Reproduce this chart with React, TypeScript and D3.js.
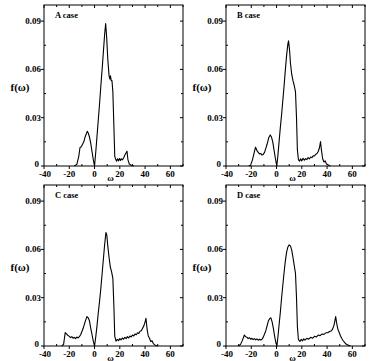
import * as d3 from "d3"

// spectral function f(ω) for the four cases
const caseA: [number, number][] = [
  [-16, 0], [-14, 0.001], [-12.5, 0.006], [-11.5, 0.0115], [-10.5, 0.012], [-9.5, 0.0135], [-8.5, 0.015],
  [-7.5, 0.018], [-6.5, 0.02], [-5.8, 0.0215], [-5, 0.0205], [-4, 0.018], [-3, 0.014], [-2, 0.009],
  [-1, 0.004], [0, 0], [1, 0.009], [2, 0.019], [3, 0.029], [4, 0.039], [5, 0.05], [6, 0.06], [7, 0.071],
  [8, 0.082], [8.8, 0.0885], [9.6, 0.08], [10.5, 0.066], [11.5, 0.056], [12.1, 0.054], [12.6, 0.056],
  [13.2, 0.053], [13.8, 0.053], [14.5, 0.046], [15.3, 0.025], [16, 0.006], [16.8, 0.004], [17.5, 0.003],
  [18.2, 0.0045], [19, 0.0032], [19.8, 0.0046], [20.5, 0.0034], [21.3, 0.0045], [22, 0.0038], [23, 0.005],
  [24, 0.0068], [25, 0.0082], [25.7, 0.0092], [26.4, 0.004], [27.5, 0.0012], [29, 0.0005], [31, 0],
]

const caseB: [number, number][] = [
  [-22, 0], [-20.5, 0.0005], [-19, 0.004], [-17.5, 0.009], [-16.6, 0.0117], [-15.5, 0.0095], [-14.5, 0.0085],
  [-13.5, 0.0075], [-12.5, 0.0078], [-11.5, 0.0068], [-10.5, 0.0072], [-9.5, 0.0085], [-8.5, 0.011],
  [-7.5, 0.0135], [-6.2, 0.0175], [-5, 0.0193], [-4, 0.018], [-3, 0.015], [-2, 0.01], [-1, 0.005],
  [0.2, 0], [1, 0.006], [2, 0.015], [3, 0.024], [4, 0.032], [5, 0.041], [6, 0.05], [7, 0.06], [8, 0.069],
  [9, 0.076], [9.5, 0.0777], [10.3, 0.072], [11, 0.064], [12, 0.057], [13, 0.053], [14, 0.05], [15, 0.046],
  [15.8, 0.03], [16.5, 0.01], [17.3, 0.004], [18.2, 0.003], [19, 0.0045], [20, 0.0032], [21, 0.0048],
  [22, 0.0036], [23, 0.0046], [24, 0.004], [25, 0.0052], [26, 0.0044], [27, 0.0056], [28, 0.0052],
  [29, 0.0064], [30, 0.0062], [31, 0.0072], [32, 0.0078], [33, 0.009], [34, 0.0115], [34.8, 0.0152],
  [35.5, 0.01], [36.5, 0.0045], [37.5, 0.0025], [38.5, 0.0032], [39.5, 0.0012], [41, 0.0006], [42.5, 0],
]

const caseC: [number, number][] = [
  [-26, 0], [-24.5, 0.001], [-23.8, 0.005], [-23.2, 0.0083], [-22.2, 0.0075], [-21, 0.0065], [-20, 0.006],
  [-19, 0.0052], [-18, 0.0058], [-17, 0.0048], [-16, 0.0054], [-15, 0.0046], [-14, 0.0056], [-13, 0.005],
  [-12, 0.0058], [-11, 0.007], [-10, 0.009], [-9, 0.011], [-7.5, 0.015], [-6, 0.0183], [-5, 0.0175],
  [-4, 0.0155], [-3, 0.011], [-2, 0.007], [-1, 0.003], [0, 0], [1, 0.006], [2, 0.013], [3, 0.021],
  [4, 0.028], [5, 0.036], [6, 0.045], [7, 0.054], [8, 0.063], [9, 0.0705], [9.7, 0.069], [10.5, 0.062],
  [11.5, 0.055], [12.5, 0.049], [13.5, 0.046], [14.5, 0.042], [15.3, 0.025], [16, 0.006], [17, 0.003],
  [18, 0.0042], [19, 0.0033], [20, 0.0046], [21, 0.0038], [22, 0.005], [23, 0.0042], [24, 0.0054],
  [25, 0.0046], [26, 0.0058], [27, 0.005], [28, 0.0062], [29, 0.0056], [30, 0.0068], [31, 0.0062],
  [32, 0.0075], [33, 0.007], [34, 0.0082], [35, 0.0078], [36, 0.0092], [37, 0.0095], [38, 0.011],
  [39, 0.0125], [40, 0.015], [40.7, 0.0172], [41.5, 0.011], [42.5, 0.0062], [43.5, 0.0048], [44.5, 0.0028],
  [45.5, 0.0032], [46.5, 0.0015], [48, 0.0005], [50, 0],
]

const caseD: [number, number][] = [
  [-30, 0], [-28.5, 0.001], [-27, 0.0035], [-25.5, 0.0068], [-24.5, 0.0058], [-23.5, 0.0055],
  [-22.5, 0.0046], [-21.5, 0.0052], [-20.5, 0.0042], [-19.5, 0.0048], [-18.5, 0.004], [-17.5, 0.0046],
  [-16.5, 0.0038], [-15.5, 0.0044], [-14.5, 0.0036], [-13.5, 0.0042], [-12.5, 0.0037], [-11.5, 0.0042],
  [-10.5, 0.0055], [-9.5, 0.0075], [-8.5, 0.0095], [-7.5, 0.0125], [-6.5, 0.0155], [-5.5, 0.017],
  [-4.5, 0.0175], [-3.5, 0.015], [-2.5, 0.011], [-1.5, 0.006], [-0.5, 0.002], [0.3, 0], [1, 0.005],
  [2, 0.013], [3, 0.021], [4, 0.03], [5, 0.038], [6, 0.046], [7, 0.053], [8, 0.0585], [9, 0.0615],
  [10, 0.0628], [11, 0.0622], [12, 0.0595], [13, 0.055], [14, 0.05], [15, 0.045], [15.8, 0.03],
  [16.5, 0.012], [17.3, 0.004], [18.5, 0.0028], [19.5, 0.0042], [20.5, 0.0032], [21.5, 0.0044],
  [22.5, 0.0036], [24, 0.0048], [25.5, 0.0042], [27, 0.0054], [28.5, 0.0048], [30, 0.006], [31.5, 0.0056],
  [33, 0.0068], [34.5, 0.0064], [36, 0.0075], [37.5, 0.0072], [39, 0.0082], [40.5, 0.0082], [42, 0.009],
  [43.5, 0.0095], [44.5, 0.0108], [45.5, 0.013], [46.8, 0.0183], [47.5, 0.0145], [48.5, 0.0105],
  [49.5, 0.0085], [50.5, 0.0065], [51.5, 0.0048], [52.5, 0.0036], [53.5, 0.0025], [55, 0.0012],
  [57, 0.0004], [58.5, 0],
]

const caseLabels = ["A case", "B case", "C case", "D case"]
const caseData = [caseA, caseB, caseC, caseD]

const xMajor = [-40, -20, 0, 20, 40, 60]
const xMinor = [-30, -10, 10, 30, 50, 70]
const yMajor = [0, 0.03, 0.06, 0.09]
const yMinor = [0.015, 0.045, 0.075]
const yTickText = ["0", "0.03", "0.06", "0.09"]

const W = 371
const H = 361
const boxW = 139
const boxH = 161
const origins = [
  { x: 44, y: 5 },
  { x: 226, y: 5 },
  { x: 44, y: 185 },
  { x: 226, y: 185 },
]

const font = "'Liberation Serif', 'Times New Roman', serif"

function Panel({ idx }: { idx: number }) {
  const { x: left, y: top } = origins[idx]
  const data = caseData[idx]

  const x = d3.scaleLinear().domain([-40, 70]).range([left, left + boxW])
  const y = d3.scaleLinear().domain([0, 0.1]).range([top + boxH, top])

  const line = d3.line<[number, number]>()
    .x(d => x(d[0]))
    .y(d => y(d[1]))

  const bottom = top + boxH
  const right = left + boxW

  return (
    <g>
      <path d={line(data) ?? ""} fill="none" stroke="#000" strokeWidth={1.1} strokeLinejoin="round" />
      <rect x={left} y={top} width={boxW} height={boxH} fill="none" stroke="#000" strokeWidth={1} />

      {/* x ticks */}
      {xMajor.map(v => (
        <g key={"xM" + v}>
          <line x1={x(v)} x2={x(v)} y1={bottom} y2={bottom + 3} stroke="#000" />
          <line x1={x(v)} x2={x(v)} y1={top} y2={top + 3} stroke="#000" />
          <text x={x(v) + (v === -40 ? 1 : 0)} y={bottom + 10.5} textAnchor="middle" fontSize={9} fontWeight="bold"
            fontFamily={font}>{v}</text>
        </g>
      ))}
      {xMinor.map(v => (
        <g key={"xm" + v}>
          <line x1={x(v)} x2={x(v)} y1={bottom} y2={bottom - 2} stroke="#000" />
          <line x1={x(v)} x2={x(v)} y1={top} y2={top + 2} stroke="#000" />
        </g>
      ))}

      {/* y ticks */}
      {yMajor.map((v, i) => (
        <g key={"yM" + v}>
          <line x1={left - 3} x2={left} y1={y(v)} y2={y(v)} stroke="#000" />
          <line x1={right} x2={right - 3} y1={y(v)} y2={y(v)} stroke="#000" />
          <text x={left - (i === 0 ? 5 : 3)} y={y(v) + (i === 0 ? 1 : 3)} textAnchor="end" fontSize={9} fontWeight="bold"
            fontFamily={font}>{yTickText[i]}</text>
        </g>
      ))}
      {yMinor.map(v => (
        <g key={"ym" + v}>
          <line x1={left} x2={left + 2} y1={y(v)} y2={y(v)} stroke="#000" />
          <line x1={right} x2={right - 2} y1={y(v)} y2={y(v)} stroke="#000" />
        </g>
      ))}

      <text x={left + 11} y={top + 13} fontSize={8.5} fontWeight="bold" fontFamily={font}>{caseLabels[idx]}</text>
      <text x={left + boxW / 2 - 3} y={bottom + 14.5} textAnchor="middle" fontSize={9} fontWeight="bold"
        fontFamily={font}>ω</text>
      <text x={left - 24} y={top + 86} textAnchor="middle" fontSize={11} fontWeight="bold"
        fontFamily={font}>f(ω)</text>
    </g>
  )
}

export default function App() {
  return (
    <svg width={W} height={H} viewBox={`0 0 ${W} ${H}`}
      style={{ position: "absolute", left: 0, top: 0, background: "#fff" }}>
      <rect width={W} height={H} fill="#fff" />
      {caseData.map((_, i) => <Panel key={i} idx={i} />)}
    </svg>
  )
}
